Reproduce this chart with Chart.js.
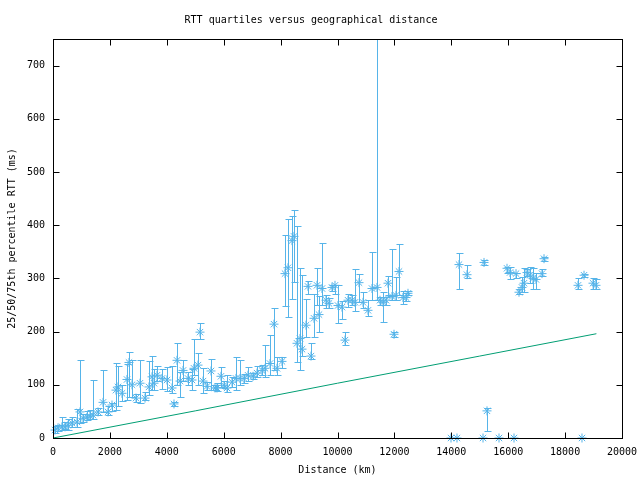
<!DOCTYPE html>
<html>
<head>
<meta charset="utf-8">
<script src="https://cdn.jsdelivr.net/npm/chart.js@4.4.1/dist/chart.umd.min.js"></script>
<style>
  body { margin: 0; background: #fff; }
</style>
</head>
<body>
<canvas id="rtt" width="640" height="480"></canvas>
<script>
// distance (km) and RTT quartiles (ms) per node pair
const distanceKm = [70, 176, 316, 422, 527, 668, 844, 949, 1055, 1195, 1301, 1406, 1582, 1758, 1933, 2074,
    2214, 2285, 2425, 2601, 2671, 2777, 2917, 3058, 3234, 3374, 3480, 3550, 3656, 3831, 4007, 4183,
    4253, 4359, 4464, 4570, 4745, 4886, 4956, 5097, 5167, 5273, 5413, 5554, 5694, 5765, 5905, 6011,
    6116, 6292, 6432, 6573, 6714, 6854, 7030, 7171, 7346, 7452, 7628, 7768, 7874, 8049, 8155, 8260,
    8401, 8471, 8577, 8682, 8752, 8893, 8963, 9069, 9174, 9280, 9350, 9455, 9596, 9701, 9807, 9912,
    10018, 10158, 10264, 10369, 10510, 10615, 10756, 10897, 11072, 11213, 11389, 11494, 11600, 11705,
    11775, 11916, 11986, 12056, 12162, 12303, 12408, 12478, 14271, 14552, 15150, 15958, 16064, 16275,
    16380, 16485, 16556, 16661, 16767, 16872, 16977, 17188, 17259, 18454, 18665, 18981, 19086,
    13990, 14200, 15115, 15677, 16204, 18594, 15255];
const medianRtt = [15, 19, 21, 21, 24, 28, 30, 49, 37, 39, 41, 43, 49, 67, 49, 62,
    90, 96, 84, 110, 142, 100, 75, 103, 75, 96, 115, 103, 118, 112, 109, 94,
    64, 146, 107, 127, 112, 109, 131, 137, 199, 107, 97, 126, 94, 94, 116, 99,
    94, 105, 112, 112, 112, 118, 116, 122, 127, 131, 140, 214, 131, 144, 309, 320,
    371, 379, 178, 187, 167, 212, 285, 154, 225, 287, 232, 281, 259, 253, 283, 287,
    249, 246, 184, 259, 259, 255, 292, 255, 240, 281, 283, 259, 255, 259,
    291, 266, 195, 268, 313, 264, 264, 272, 326, 307, 330, 319, 311, 309,
    274, 283, 291, 311, 306, 300, 298, 309, 337, 287, 306, 291, 287,
    0, 0, 0, 0, 0, 0, 51];
const q25Rtt = [10, 13, 15, 17, 15, 21, 21, 28, 30, 34, 36, 36, 43, 49, 43, 50,
    52, 60, 70, 71, 77, 77, 67, 65, 71, 80, 90, 90, 107, 92, 88, 84,
    60, 99, 78, 108, 100, 90, 118, 99, 187, 84, 90, 90, 90, 88, 96, 94,
    86, 96, 90, 99, 103, 107, 110, 114, 118, 114, 118, 127, 118, 131, 249, 227,
    262, 294, 142, 127, 155, 190, 271, 148, 189, 250, 199, 250, 245, 245, 276, 270,
    216, 223, 175, 246, 250, 239, 255, 245, 230, 259, 259, 250, 218, 250,
    268, 259, 190, 259, 268, 252, 258, 268, 281, 300, 326, 311, 298, 300,
    270, 274, 274, 305, 292, 281, 281, 305, 332, 281, 302, 281, 281,
    0, 0, 0, 0, 0, 0, 13];
const q75Rtt = [22, 24, 39, 30, 35, 39, 54, 146, 45, 50, 52, 109, 56, 127, 60, 65,
    141, 135, 100, 140, 161, 146, 82, 146, 86, 144, 155, 130, 136, 130, 133, 135,
    68, 178, 124, 146, 125, 130, 187, 160, 216, 131, 105, 148, 100, 103, 133, 107,
    118, 114, 152, 146, 120, 133, 122, 135, 137, 174, 193, 244, 152, 152, 381, 411,
    418, 429, 399, 319, 306, 262, 296, 178, 271, 320, 266, 367, 268, 264, 287, 287,
    287, 257, 200, 271, 268, 317, 309, 275, 260, 349, 800, 265, 275, 265,
    305, 356, 200, 302, 364, 276, 272, 276, 347, 326, 334, 322, 322, 311,
    281, 302, 319, 317, 322, 319, 311, 317, 341, 300, 309, 300, 298,
    0, 0, 0, 0, 0, 0, 57];

// lower bound from propagation delay
const boundDistance = [0, 5000, 10000, 15000, 19100];
const boundRtt = [0, 51, 103, 154, 196];

const blue = '#56b4e9';
const green = '#009e73';
const mono = 'DejaVu Sans Mono';
const fsize = 10;

const errorBars = {
    id: 'errorBars',
    beforeDatasetsDraw(chart) {
        const { ctx, chartArea: a, scales: { x, y } } = chart;
        ctx.save();
        ctx.beginPath();
        ctx.rect(a.left, a.top, a.right - a.left, a.bottom - a.top);
        ctx.clip();
        ctx.strokeStyle = blue;
        ctx.lineWidth = 1;
        ctx.beginPath();
        distanceKm.forEach((d, i) => {
            const px = Math.round(x.getPixelForValue(d)) + 0.5;
            const lo = Math.round(y.getPixelForValue(q25Rtt[i])) + 0.5;
            const hi = Math.round(y.getPixelForValue(q75Rtt[i])) + 0.5;
            ctx.moveTo(px, lo); ctx.lineTo(px, hi);
            ctx.moveTo(px - 3, lo); ctx.lineTo(px + 4, lo);
            ctx.moveTo(px - 3, hi); ctx.lineTo(px + 4, hi);
        });
        ctx.stroke();
        ctx.restore();
    }
};

const frame = {
    id: 'frame',
    afterDatasetsDraw(chart) {
        const { ctx, chartArea: a, scales: { x, y } } = chart;
        ctx.save();
        ctx.strokeStyle = '#000';
        ctx.lineWidth = 1;
        const l = Math.round(a.left) + 0.5, r = Math.round(a.right) + 0.5;
        const t = Math.round(a.top) + 0.5, b = Math.round(a.bottom) + 0.5;
        ctx.beginPath();
        x.ticks.forEach(tk => {
            const px = Math.round(x.getPixelForValue(tk.value)) + 0.5;
            ctx.moveTo(px, b); ctx.lineTo(px, b - 6);
            ctx.moveTo(px, t); ctx.lineTo(px, t + 6);
        });
        y.ticks.forEach(tk => {
            const py = Math.round(y.getPixelForValue(tk.value)) + 0.5;
            ctx.moveTo(l, py); ctx.lineTo(l + 6, py);
            ctx.moveTo(r, py); ctx.lineTo(r - 6, py);
        });
        ctx.stroke();
        ctx.strokeRect(l, t, r - l, b - t);
        ctx.restore();
    }
};

new Chart(document.getElementById('rtt').getContext('2d'), {
    type: 'scatter',
    data: {
        datasets: [{
            label: 'quartiles',
            data: distanceKm.map((d, i) => ({ x: d, y: medianRtt[i] })),
            pointStyle: 'star',
            radius: 4.5,
            borderWidth: 1,
            borderColor: blue,
            backgroundColor: blue,
            clip: false
        }, {
            label: 'bound',
            type: 'line',
            data: boundDistance.map((d, i) => ({ x: d, y: boundRtt[i] })),
            borderColor: green,
            borderWidth: 1,
            pointRadius: 0,
            fill: false
        }]
    },
    options: {
        responsive: false,
        animation: false,
        layout: { padding: { left: 0, right: 18, top: 0, bottom: 0 } },
        plugins: {
            legend: { display: false },
            tooltip: { enabled: false },
            title: {
                display: true,
                text: 'RTT quartiles versus geographical distance',
                color: '#000',
                font: { family: mono, size: fsize, weight: 'normal' },
                padding: { top: 14, bottom: 13 }
            }
        },
        scales: {
            x: {
                type: 'linear',
                min: 0,
                max: 20000,
                ticks: { stepSize: 2000, color: '#000', padding: 8, font: { family: mono, size: fsize }, maxRotation: 0,
                    callback: v => String(v) },
                grid: { display: false, drawTicks: false },
                border: { display: false },
                title: { display: true, text: 'Distance (km)', color: '#000', font: { family: mono, size: fsize }, padding: { top: 4, bottom: 4 } },
                afterFit: s => { s.height = 42; s.paddingRight = 0; s.paddingLeft = 0; }
            },
            y: {
                type: 'linear',
                min: 0,
                max: 750,
                ticks: { stepSize: 100, color: '#000', padding: 8, font: { family: mono, size: fsize },
                    callback: v => String(v) },
                afterBuildTicks: s => { s.ticks = s.ticks.filter(t => t.value % 100 === 0); },
                grid: { display: false, drawTicks: false },
                border: { display: false },
                title: { display: true, text: '25/50/75th percentile RTT (ms)', color: '#000', font: { family: mono, size: fsize }, padding: { top: 6, bottom: 4 } },
                afterFit: s => { s.width = 53; s.paddingTop = 0; s.paddingBottom = 0; }
            }
        }
    },
    plugins: [errorBars, frame]
});
</script>
</body>
</html>
